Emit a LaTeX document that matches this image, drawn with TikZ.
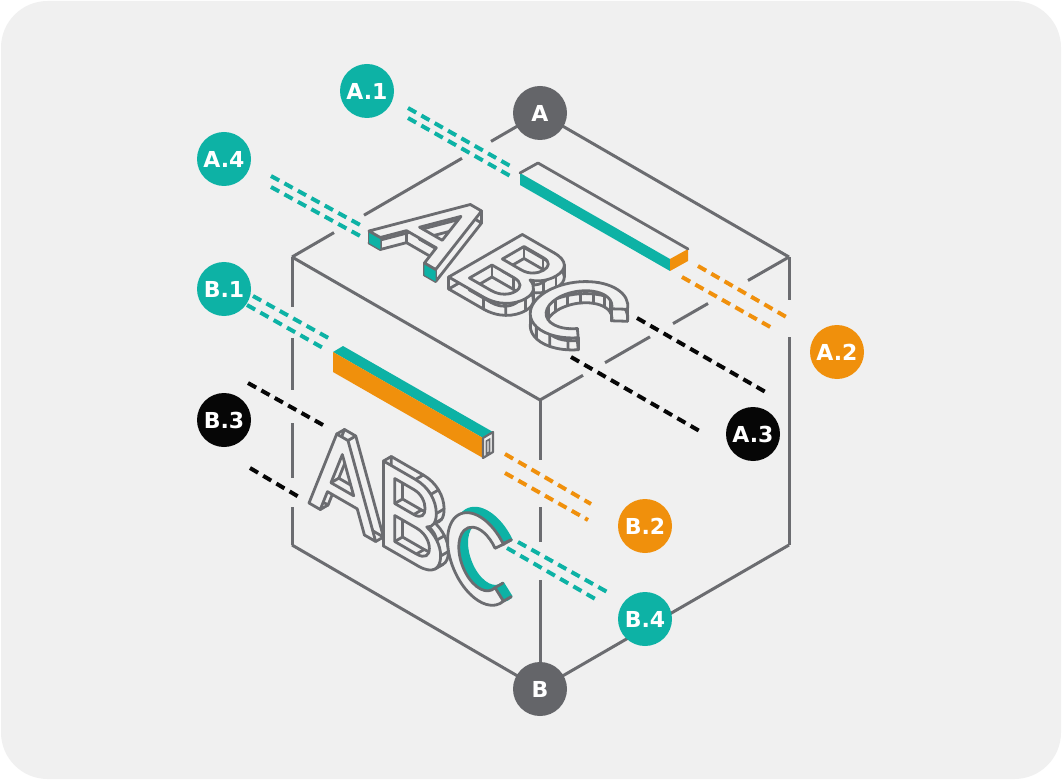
\documentclass[tikz,border=0pt]{standalone}
\usepackage{fontspec}
\setmainfont{DejaVu Sans}
\definecolor{bg}{HTML}{F0F0F0}
\definecolor{cgray}{HTML}{6B6C70}
\definecolor{dgray}{HTML}{646569}
\definecolor{cteal}{HTML}{0DB2A5}
\definecolor{corange}{HTML}{F0900C}
\definecolor{cblack}{HTML}{060606}
\def\glyA{(0,0) -- (13,0) -- (21.3,22) -- (55.7,22) -- (64,0) -- (77,0) -- (45,85) -- (32,85) -- cycle (25.4,33) -- (51.6,33) -- (38.5,67.7) -- cycle}
\def\glyB{(0,0) -- (40,0) .. controls (57,0) and (66,10) .. (66,23) .. controls (66,34) and (59,41) .. (50,44) .. controls (57,47) and (61,54) .. (61,63) .. controls (61,76) and (52,85) .. (37,85) -- (0,85) -- cycle
 (13,49) -- (35,49) .. controls (44,49) and (48,55) .. (48,61.5) .. controls (48,68) and (44,74) .. (35,74) -- (13,74) -- cycle
 (13,11) -- (38,11) .. controls (48,11) and (53,17) .. (53,24) .. controls (53,31) and (48,37) .. (38,37) -- (13,37) -- cycle}
\def\glyC{(64.5,70.94) arc[start angle=42,end angle=318,x radius=37,y radius=42.5] -- (54.83,22.76) arc[start angle=318,end angle=42,x radius=24,y radius=29.5] -- cycle}
\def\ptsA{(0,0),(13,0),(21.3,22),(55.7,22),(64,0),(77,0),(45,85),(32,85),(25.4,33),(51.6,33),(38.5,67.7)}
\def\ptsB{(0,0),(40,0),(59.4,6.6),(66,23),(61.4,36.5),(50,44),(58.1,51.3),(61,63),(54.6,78.9),(37,85),(0,85),(13,49),(35,49),(44.9,52.8),(48,61.5),(44.9,70.2),(35,74),(13,74),(13,11),(38,11),(49.3,14.9),(53,24),(49.3,33.1),(38,37),(13,37)}
\tikzset{
 edge/.style={draw=cgray, line width=2.25pt},
 lead/.style={line width=3pt, dash pattern=on 7pt off 4.5pt},
 lfill/.style={fill=bg, draw=cgray, line width=2.1pt, line join=round, even odd rule},
 lline/.style={draw=cgray, line width=2.1pt, line cap=round},
 badge/.style={circle, minimum size=40.5pt, inner sep=0pt, text=white, font=\bfseries\fontsize{16.5}{17}\selectfont},
}
\begin{document}
\begin{tikzpicture}[x=0.75pt,y=-0.75pt]
\useasboundingbox (0,0) rectangle (1062,780);
\fill[white] (0,0) rectangle (1062,780);
\fill[bg, rounded corners=35pt] (1,1) rectangle (1061,779);

% cube vertices
\coordinate (T) at (540,113);
\coordinate (L) at (292,257);
\coordinate (R) at (789,257);
\coordinate (C) at (540,400);
\coordinate (BL) at (292,545);
\coordinate (BR) at (789,545);
\coordinate (Bo) at (540,689);

% cube edges (broken where leaders pass)
\draw[edge] (T) -- (491,141.4) (462,158.3) -- (364,215.2) (334,232.6) -- (L);
\draw[edge] (T) -- (R);
\draw[edge] (L) -- (C);
\draw[edge] (C) -- (583,375.3) (605,362.7) -- (650,336.8) (673,323.6) -- (708,303.5) (748,280.5) -- (R);
\draw[edge] (L) -- (292,307) (292,338) -- (292,390) (292,423) -- (292,478) (292,507) -- (BL);
\draw[edge] (R) -- (789,300) (789,337) -- (BR);
\draw[edge] (C) -- (540,460) (540,507) -- (540,542) (540,580) -- (Bo);
\draw[edge] (BL) -- (Bo) -- (BR);

% top face letters
\begin{scope}[cm={0.866,-0.5,0.866,0.5,(369,231)},x=0.75pt,y=0.75pt]
 \path[lfill,shift={(12,-12)}] \glyA;
 \foreach \p in \ptsA \draw[lline] \p -- ++(12,-12);
 \fill[cteal] (0,0)--(13,0)--(25,-12)--(12,-12)--cycle;
 \fill[cteal] (64,0)--(77,0)--(89,-12)--(76,-12)--cycle;
 \path[lfill] \glyA;
 \begin{scope}[shift={(92,0)}]
  \path[lfill,shift={(12,-12)}] \glyB;
  \foreach \p in \ptsB \draw[lline] \p -- ++(12,-12);
  \path[lfill] \glyB;
 \end{scope}
 \begin{scope}[shift={(163,0)}]
  \path[lfill,shift={(12,-12)}] \glyC;
  \foreach \a in {42,66,90,114,138,162,186,210,234,258,282,306,318} {
   \draw[lline] ({37+37*cos(\a)},{42.5+42.5*sin(\a)}) -- ++(12,-12);
   \draw[lline] ({37+24*cos(\a)},{42.5+29.5*sin(\a)}) -- ++(12,-12);
  }
  \path[lfill] \glyC;
 \end{scope}
\end{scope}

% top bar
\coordinate (tb1) at (520,173); \coordinate (tb2) at (538,163);
\coordinate (tb3) at (688,249); \coordinate (tb4) at (670,259);
\fill[bg] (tb1) -- (tb2) -- (tb3) -- (tb4) -- cycle;
\fill[cteal] (tb1) -- (tb4) -- (670,271) -- (520,185) -- cycle;
\fill[corange] (tb4) -- (tb3) -- (688,261) -- (670,271) -- cycle;
\draw[lline, line join=round] (tb1) -- (tb2) -- (tb3);

% front face letters
\begin{scope}[cm={0.866,-0.5,0,1,(309,503)},x=0.75pt,y=0.75pt]
 \path[lfill,shift={(9,9)}] \glyA;
 \foreach \p in \ptsA \draw[lline] \p -- ++(9,9);
 \path[lfill] \glyA;
 \begin{scope}[shift={(86,0)}]
  \path[lfill,shift={(9,9)}] \glyB;
  \foreach \p in \ptsB \draw[lline] \p -- ++(9,9);
  \path[lfill] \glyB;
 \end{scope}
 \begin{scope}[shift={(160,0)}]
  \path[fill=cteal,draw=cteal,line width=2.1pt,line join=round,shift={(9,9)}] \glyC;
  \foreach \p in {(64.5,70.94),(54.83,62.24),(64.5,14.06),(54.83,22.76)} \draw[lline] \p -- ++(9,9);
  \draw[lline] (64.5,70.94) ++(9,9) -- ++(-9.67,-8.7);
  \path[lfill] \glyC;
 \end{scope}
\end{scope}

% front bar
\coordinate (fb1) at (333,352); \coordinate (fb2) at (343,346);
\coordinate (fb3) at (493,432); \coordinate (fb4) at (483,438);
\fill[cteal] (fb1) -- (fb2) -- (fb3) -- (fb4) -- cycle;
\fill[corange] (fb1) -- (fb4) -- (483,458) -- (333,372) -- cycle;
\filldraw[fill=bg, draw=cgray, line width=1.6pt, line join=round] (fb4) -- (fb3) -- (493,452) -- (483,458) -- cycle;
\draw[cgray, line width=1.2pt] (486.5,441) -- (489.5,439.3) -- (489.5,452) -- (486.5,454) -- cycle;

% leaders
\draw[lead, cteal] (408,108) -- (512,167) (408,118) -- (512,177);
\draw[lead, cteal] (271,176) -- (362,226) (271,187) -- (362,237);
\draw[lead, cteal] (253,296) -- (332,340) (247,305) -- (323,348);
\draw[lead, cblack] (248,383) -- (323,425) (250,468) -- (299,497);
\draw[lead, corange] (698,266) -- (788,318) (682,277) -- (772,328);
\draw[lead, cblack] (637,318) -- (769,394) (571,357) -- (703,433);
\draw[lead, corange] (505,454) -- (591,504) (505,473) -- (588,520);
\draw[lead, cteal] (518,542) -- (609,593) (507,548) -- (597,600);

% badges
\node[badge, fill=dgray] (nA) at (T) {A};
\node[badge, fill=dgray] (nB) at (Bo) {B};
\node[badge, fill=cteal] (nA1) at (367,91) {A.1};
\node[badge, fill=cteal] (nA4) at (224,159) {A.4};
\node[badge, fill=cteal] (nB1) at (224,289) {B.1};
\node[badge, fill=cblack] (nB3) at (224,420) {B.3};
\node[badge, fill=corange] (nA2) at (837,352) {A.2};
\node[badge, fill=cblack] (nA3) at (753,434) {A.3};
\node[badge, fill=corange] (nB2) at (645,526) {B.2};
\node[badge, fill=cteal] (nB4) at (645,619) {B.4};
\end{tikzpicture}
\end{document}
